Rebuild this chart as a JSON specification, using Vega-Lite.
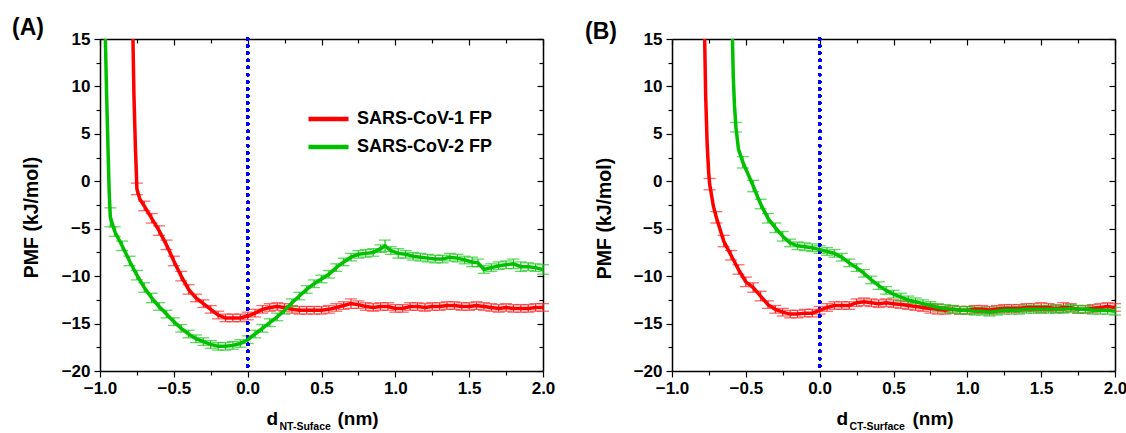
{
  "$schema": "https://vega.github.io/schema/vega-lite/v6.json",
  "background": "white",
  "padding": {"left": 12, "top": 17, "right": 0, "bottom": 0},
  "spacing": 30,
  "config": {"view": {"stroke": null}, "font": "Liberation Sans"},
  "datasets": {
    "pmf": [
      {"p":"A","s":"SARS-CoV-1 FP","x":-0.778,"y":16,"e":null},
      {"p":"A","s":"SARS-CoV-1 FP","x":-0.77,"y":9,"e":null},
      {"p":"A","s":"SARS-CoV-1 FP","x":-0.76,"y":3.5,"e":null},
      {"p":"A","s":"SARS-CoV-1 FP","x":-0.75,"y":-0.8,"e":0.6},
      {"p":"A","s":"SARS-CoV-1 FP","x":-0.73,"y":-1.9,"e":null},
      {"p":"A","s":"SARS-CoV-1 FP","x":-0.70,"y":-2.6,"e":0.5},
      {"p":"A","s":"SARS-CoV-1 FP","x":-0.65,"y":-3.9,"e":0.5},
      {"p":"A","s":"SARS-CoV-1 FP","x":-0.60,"y":-5.2,"e":0.5},
      {"p":"A","s":"SARS-CoV-1 FP","x":-0.55,"y":-6.7,"e":0.5},
      {"p":"A","s":"SARS-CoV-1 FP","x":-0.50,"y":-8.4,"e":0.5},
      {"p":"A","s":"SARS-CoV-1 FP","x":-0.45,"y":-10.0,"e":0.5},
      {"p":"A","s":"SARS-CoV-1 FP","x":-0.40,"y":-11.4,"e":0.5},
      {"p":"A","s":"SARS-CoV-1 FP","x":-0.35,"y":-12.3,"e":0.4},
      {"p":"A","s":"SARS-CoV-1 FP","x":-0.30,"y":-12.9,"e":0.4},
      {"p":"A","s":"SARS-CoV-1 FP","x":-0.25,"y":-13.5,"e":0.4},
      {"p":"A","s":"SARS-CoV-1 FP","x":-0.20,"y":-14.1,"e":0.4},
      {"p":"A","s":"SARS-CoV-1 FP","x":-0.15,"y":-14.4,"e":0.4},
      {"p":"A","s":"SARS-CoV-1 FP","x":-0.10,"y":-14.4,"e":0.4},
      {"p":"A","s":"SARS-CoV-1 FP","x":-0.05,"y":-14.4,"e":0.4},
      {"p":"A","s":"SARS-CoV-1 FP","x":0.00,"y":-14.2,"e":0.4},
      {"p":"A","s":"SARS-CoV-1 FP","x":0.05,"y":-13.9,"e":0.4},
      {"p":"A","s":"SARS-CoV-1 FP","x":0.10,"y":-13.5,"e":0.4},
      {"p":"A","s":"SARS-CoV-1 FP","x":0.15,"y":-13.3,"e":0.4},
      {"p":"A","s":"SARS-CoV-1 FP","x":0.20,"y":-13.2,"e":0.4},
      {"p":"A","s":"SARS-CoV-1 FP","x":0.25,"y":-13.3,"e":0.4},
      {"p":"A","s":"SARS-CoV-1 FP","x":0.30,"y":-13.5,"e":0.4},
      {"p":"A","s":"SARS-CoV-1 FP","x":0.35,"y":-13.6,"e":0.4},
      {"p":"A","s":"SARS-CoV-1 FP","x":0.40,"y":-13.6,"e":0.4},
      {"p":"A","s":"SARS-CoV-1 FP","x":0.45,"y":-13.6,"e":0.4},
      {"p":"A","s":"SARS-CoV-1 FP","x":0.50,"y":-13.6,"e":0.4},
      {"p":"A","s":"SARS-CoV-1 FP","x":0.55,"y":-13.5,"e":0.4},
      {"p":"A","s":"SARS-CoV-1 FP","x":0.60,"y":-13.3,"e":0.4},
      {"p":"A","s":"SARS-CoV-1 FP","x":0.65,"y":-13.1,"e":0.4},
      {"p":"A","s":"SARS-CoV-1 FP","x":0.70,"y":-12.9,"e":0.5},
      {"p":"A","s":"SARS-CoV-1 FP","x":0.75,"y":-13.0,"e":0.4},
      {"p":"A","s":"SARS-CoV-1 FP","x":0.80,"y":-13.2,"e":0.4},
      {"p":"A","s":"SARS-CoV-1 FP","x":0.85,"y":-13.3,"e":0.4},
      {"p":"A","s":"SARS-CoV-1 FP","x":0.90,"y":-13.2,"e":0.4},
      {"p":"A","s":"SARS-CoV-1 FP","x":0.95,"y":-13.2,"e":0.4},
      {"p":"A","s":"SARS-CoV-1 FP","x":1.00,"y":-13.4,"e":0.4},
      {"p":"A","s":"SARS-CoV-1 FP","x":1.05,"y":-13.4,"e":0.4},
      {"p":"A","s":"SARS-CoV-1 FP","x":1.10,"y":-13.2,"e":0.4},
      {"p":"A","s":"SARS-CoV-1 FP","x":1.15,"y":-13.2,"e":0.4},
      {"p":"A","s":"SARS-CoV-1 FP","x":1.20,"y":-13.3,"e":0.4},
      {"p":"A","s":"SARS-CoV-1 FP","x":1.25,"y":-13.2,"e":0.4},
      {"p":"A","s":"SARS-CoV-1 FP","x":1.30,"y":-13.2,"e":0.4},
      {"p":"A","s":"SARS-CoV-1 FP","x":1.35,"y":-13.1,"e":0.4},
      {"p":"A","s":"SARS-CoV-1 FP","x":1.40,"y":-13.1,"e":0.4},
      {"p":"A","s":"SARS-CoV-1 FP","x":1.45,"y":-13.2,"e":0.4},
      {"p":"A","s":"SARS-CoV-1 FP","x":1.50,"y":-13.2,"e":0.4},
      {"p":"A","s":"SARS-CoV-1 FP","x":1.55,"y":-13.1,"e":0.4},
      {"p":"A","s":"SARS-CoV-1 FP","x":1.60,"y":-13.2,"e":0.4},
      {"p":"A","s":"SARS-CoV-1 FP","x":1.65,"y":-13.3,"e":0.4},
      {"p":"A","s":"SARS-CoV-1 FP","x":1.70,"y":-13.4,"e":0.4},
      {"p":"A","s":"SARS-CoV-1 FP","x":1.75,"y":-13.3,"e":0.4},
      {"p":"A","s":"SARS-CoV-1 FP","x":1.80,"y":-13.4,"e":0.4},
      {"p":"A","s":"SARS-CoV-1 FP","x":1.85,"y":-13.4,"e":0.4},
      {"p":"A","s":"SARS-CoV-1 FP","x":1.90,"y":-13.4,"e":0.4},
      {"p":"A","s":"SARS-CoV-1 FP","x":1.95,"y":-13.3,"e":0.4},
      {"p":"A","s":"SARS-CoV-1 FP","x":2.00,"y":-13.3,"e":0.4},

      {"p":"A","s":"SARS-CoV-2 FP","x":-0.965,"y":16,"e":null},
      {"p":"A","s":"SARS-CoV-2 FP","x":-0.955,"y":9,"e":null},
      {"p":"A","s":"SARS-CoV-2 FP","x":-0.945,"y":3,"e":null},
      {"p":"A","s":"SARS-CoV-2 FP","x":-0.938,"y":-1.0,"e":null},
      {"p":"A","s":"SARS-CoV-2 FP","x":-0.93,"y":-3.8,"e":1.0},
      {"p":"A","s":"SARS-CoV-2 FP","x":-0.90,"y":-5.3,"e":0.5},
      {"p":"A","s":"SARS-CoV-2 FP","x":-0.85,"y":-6.8,"e":0.5},
      {"p":"A","s":"SARS-CoV-2 FP","x":-0.80,"y":-8.4,"e":0.5},
      {"p":"A","s":"SARS-CoV-2 FP","x":-0.75,"y":-9.9,"e":0.5},
      {"p":"A","s":"SARS-CoV-2 FP","x":-0.70,"y":-11.2,"e":0.5},
      {"p":"A","s":"SARS-CoV-2 FP","x":-0.65,"y":-12.3,"e":0.5},
      {"p":"A","s":"SARS-CoV-2 FP","x":-0.60,"y":-13.2,"e":0.4},
      {"p":"A","s":"SARS-CoV-2 FP","x":-0.55,"y":-14.0,"e":0.4},
      {"p":"A","s":"SARS-CoV-2 FP","x":-0.50,"y":-14.8,"e":0.4},
      {"p":"A","s":"SARS-CoV-2 FP","x":-0.45,"y":-15.5,"e":0.4},
      {"p":"A","s":"SARS-CoV-2 FP","x":-0.40,"y":-16.1,"e":0.4},
      {"p":"A","s":"SARS-CoV-2 FP","x":-0.35,"y":-16.6,"e":0.4},
      {"p":"A","s":"SARS-CoV-2 FP","x":-0.30,"y":-16.9,"e":0.4},
      {"p":"A","s":"SARS-CoV-2 FP","x":-0.25,"y":-17.2,"e":0.4},
      {"p":"A","s":"SARS-CoV-2 FP","x":-0.20,"y":-17.4,"e":0.4},
      {"p":"A","s":"SARS-CoV-2 FP","x":-0.15,"y":-17.4,"e":0.4},
      {"p":"A","s":"SARS-CoV-2 FP","x":-0.10,"y":-17.3,"e":0.4},
      {"p":"A","s":"SARS-CoV-2 FP","x":-0.05,"y":-17.1,"e":0.4},
      {"p":"A","s":"SARS-CoV-2 FP","x":0.00,"y":-16.7,"e":0.4},
      {"p":"A","s":"SARS-CoV-2 FP","x":0.05,"y":-16.1,"e":0.4},
      {"p":"A","s":"SARS-CoV-2 FP","x":0.10,"y":-15.5,"e":0.4},
      {"p":"A","s":"SARS-CoV-2 FP","x":0.15,"y":-14.9,"e":0.4},
      {"p":"A","s":"SARS-CoV-2 FP","x":0.20,"y":-14.3,"e":0.4},
      {"p":"A","s":"SARS-CoV-2 FP","x":0.25,"y":-13.6,"e":0.4},
      {"p":"A","s":"SARS-CoV-2 FP","x":0.30,"y":-12.8,"e":0.4},
      {"p":"A","s":"SARS-CoV-2 FP","x":0.35,"y":-12.1,"e":0.4},
      {"p":"A","s":"SARS-CoV-2 FP","x":0.40,"y":-11.4,"e":0.4},
      {"p":"A","s":"SARS-CoV-2 FP","x":0.45,"y":-10.8,"e":0.4},
      {"p":"A","s":"SARS-CoV-2 FP","x":0.50,"y":-10.3,"e":0.4},
      {"p":"A","s":"SARS-CoV-2 FP","x":0.55,"y":-9.8,"e":0.4},
      {"p":"A","s":"SARS-CoV-2 FP","x":0.60,"y":-9.1,"e":0.4},
      {"p":"A","s":"SARS-CoV-2 FP","x":0.65,"y":-8.5,"e":0.4},
      {"p":"A","s":"SARS-CoV-2 FP","x":0.70,"y":-8.0,"e":0.4},
      {"p":"A","s":"SARS-CoV-2 FP","x":0.75,"y":-7.7,"e":0.4},
      {"p":"A","s":"SARS-CoV-2 FP","x":0.80,"y":-7.6,"e":0.4},
      {"p":"A","s":"SARS-CoV-2 FP","x":0.85,"y":-7.5,"e":0.4},
      {"p":"A","s":"SARS-CoV-2 FP","x":0.90,"y":-7.1,"e":0.4},
      {"p":"A","s":"SARS-CoV-2 FP","x":0.93,"y":-6.8,"e":0.6},
      {"p":"A","s":"SARS-CoV-2 FP","x":0.97,"y":-7.3,"e":0.4},
      {"p":"A","s":"SARS-CoV-2 FP","x":1.02,"y":-7.6,"e":0.5},
      {"p":"A","s":"SARS-CoV-2 FP","x":1.07,"y":-7.7,"e":0.4},
      {"p":"A","s":"SARS-CoV-2 FP","x":1.12,"y":-7.9,"e":0.4},
      {"p":"A","s":"SARS-CoV-2 FP","x":1.17,"y":-8.0,"e":0.4},
      {"p":"A","s":"SARS-CoV-2 FP","x":1.22,"y":-8.1,"e":0.4},
      {"p":"A","s":"SARS-CoV-2 FP","x":1.27,"y":-8.2,"e":0.4},
      {"p":"A","s":"SARS-CoV-2 FP","x":1.32,"y":-8.2,"e":0.4},
      {"p":"A","s":"SARS-CoV-2 FP","x":1.37,"y":-8.0,"e":0.4},
      {"p":"A","s":"SARS-CoV-2 FP","x":1.42,"y":-8.1,"e":0.4},
      {"p":"A","s":"SARS-CoV-2 FP","x":1.47,"y":-8.3,"e":0.4},
      {"p":"A","s":"SARS-CoV-2 FP","x":1.52,"y":-8.5,"e":0.5},
      {"p":"A","s":"SARS-CoV-2 FP","x":1.56,"y":-8.6,"e":0.4},
      {"p":"A","s":"SARS-CoV-2 FP","x":1.60,"y":-9.3,"e":0.4},
      {"p":"A","s":"SARS-CoV-2 FP","x":1.65,"y":-9.1,"e":0.4},
      {"p":"A","s":"SARS-CoV-2 FP","x":1.70,"y":-8.9,"e":0.4},
      {"p":"A","s":"SARS-CoV-2 FP","x":1.75,"y":-8.8,"e":0.4},
      {"p":"A","s":"SARS-CoV-2 FP","x":1.80,"y":-8.7,"e":0.5},
      {"p":"A","s":"SARS-CoV-2 FP","x":1.85,"y":-9.0,"e":0.5},
      {"p":"A","s":"SARS-CoV-2 FP","x":1.90,"y":-9.0,"e":0.4},
      {"p":"A","s":"SARS-CoV-2 FP","x":1.95,"y":-9.1,"e":0.4},
      {"p":"A","s":"SARS-CoV-2 FP","x":2.00,"y":-9.3,"e":0.5},

      {"p":"B","s":"SARS-CoV-1 FP","x":-0.78,"y":16,"e":null},
      {"p":"B","s":"SARS-CoV-1 FP","x":-0.772,"y":9,"e":null},
      {"p":"B","s":"SARS-CoV-1 FP","x":-0.762,"y":4,"e":null},
      {"p":"B","s":"SARS-CoV-1 FP","x":-0.752,"y":1,"e":null},
      {"p":"B","s":"SARS-CoV-1 FP","x":-0.745,"y":-0.3,"e":0.6},
      {"p":"B","s":"SARS-CoV-1 FP","x":-0.72,"y":-2.6,"e":null},
      {"p":"B","s":"SARS-CoV-1 FP","x":-0.70,"y":-3.8,"e":0.6},
      {"p":"B","s":"SARS-CoV-1 FP","x":-0.65,"y":-6.3,"e":0.6},
      {"p":"B","s":"SARS-CoV-1 FP","x":-0.60,"y":-7.8,"e":0.5},
      {"p":"B","s":"SARS-CoV-1 FP","x":-0.55,"y":-9.3,"e":0.5},
      {"p":"B","s":"SARS-CoV-1 FP","x":-0.50,"y":-10.6,"e":0.5},
      {"p":"B","s":"SARS-CoV-1 FP","x":-0.45,"y":-11.2,"e":0.5},
      {"p":"B","s":"SARS-CoV-1 FP","x":-0.40,"y":-12.1,"e":0.5},
      {"p":"B","s":"SARS-CoV-1 FP","x":-0.35,"y":-13.0,"e":0.4},
      {"p":"B","s":"SARS-CoV-1 FP","x":-0.30,"y":-13.5,"e":0.4},
      {"p":"B","s":"SARS-CoV-1 FP","x":-0.25,"y":-13.8,"e":0.4},
      {"p":"B","s":"SARS-CoV-1 FP","x":-0.20,"y":-14.0,"e":0.4},
      {"p":"B","s":"SARS-CoV-1 FP","x":-0.15,"y":-14.0,"e":0.4},
      {"p":"B","s":"SARS-CoV-1 FP","x":-0.10,"y":-13.9,"e":0.4},
      {"p":"B","s":"SARS-CoV-1 FP","x":-0.05,"y":-13.9,"e":0.4},
      {"p":"B","s":"SARS-CoV-1 FP","x":0.00,"y":-13.6,"e":0.4},
      {"p":"B","s":"SARS-CoV-1 FP","x":0.05,"y":-13.3,"e":0.4},
      {"p":"B","s":"SARS-CoV-1 FP","x":0.10,"y":-13.1,"e":0.4},
      {"p":"B","s":"SARS-CoV-1 FP","x":0.15,"y":-13.1,"e":0.4},
      {"p":"B","s":"SARS-CoV-1 FP","x":0.20,"y":-13.1,"e":0.4},
      {"p":"B","s":"SARS-CoV-1 FP","x":0.25,"y":-12.8,"e":0.4},
      {"p":"B","s":"SARS-CoV-1 FP","x":0.30,"y":-12.7,"e":0.4},
      {"p":"B","s":"SARS-CoV-1 FP","x":0.35,"y":-12.8,"e":0.4},
      {"p":"B","s":"SARS-CoV-1 FP","x":0.40,"y":-12.9,"e":0.4},
      {"p":"B","s":"SARS-CoV-1 FP","x":0.45,"y":-12.8,"e":0.4},
      {"p":"B","s":"SARS-CoV-1 FP","x":0.50,"y":-12.9,"e":0.4},
      {"p":"B","s":"SARS-CoV-1 FP","x":0.55,"y":-13.0,"e":0.4},
      {"p":"B","s":"SARS-CoV-1 FP","x":0.60,"y":-13.1,"e":0.4},
      {"p":"B","s":"SARS-CoV-1 FP","x":0.65,"y":-13.2,"e":0.4},
      {"p":"B","s":"SARS-CoV-1 FP","x":0.70,"y":-13.3,"e":0.4},
      {"p":"B","s":"SARS-CoV-1 FP","x":0.75,"y":-13.4,"e":0.5},
      {"p":"B","s":"SARS-CoV-1 FP","x":0.80,"y":-13.5,"e":0.5},
      {"p":"B","s":"SARS-CoV-1 FP","x":0.85,"y":-13.6,"e":0.4},
      {"p":"B","s":"SARS-CoV-1 FP","x":0.90,"y":-13.5,"e":0.4},
      {"p":"B","s":"SARS-CoV-1 FP","x":0.95,"y":-13.6,"e":0.4},
      {"p":"B","s":"SARS-CoV-1 FP","x":1.00,"y":-13.6,"e":0.4},
      {"p":"B","s":"SARS-CoV-1 FP","x":1.05,"y":-13.5,"e":0.4},
      {"p":"B","s":"SARS-CoV-1 FP","x":1.10,"y":-13.5,"e":0.4},
      {"p":"B","s":"SARS-CoV-1 FP","x":1.15,"y":-13.6,"e":0.4},
      {"p":"B","s":"SARS-CoV-1 FP","x":1.20,"y":-13.5,"e":0.4},
      {"p":"B","s":"SARS-CoV-1 FP","x":1.25,"y":-13.4,"e":0.4},
      {"p":"B","s":"SARS-CoV-1 FP","x":1.30,"y":-13.4,"e":0.4},
      {"p":"B","s":"SARS-CoV-1 FP","x":1.35,"y":-13.4,"e":0.4},
      {"p":"B","s":"SARS-CoV-1 FP","x":1.40,"y":-13.3,"e":0.4},
      {"p":"B","s":"SARS-CoV-1 FP","x":1.45,"y":-13.3,"e":0.4},
      {"p":"B","s":"SARS-CoV-1 FP","x":1.50,"y":-13.3,"e":0.5},
      {"p":"B","s":"SARS-CoV-1 FP","x":1.55,"y":-13.3,"e":0.4},
      {"p":"B","s":"SARS-CoV-1 FP","x":1.60,"y":-13.4,"e":0.4},
      {"p":"B","s":"SARS-CoV-1 FP","x":1.65,"y":-13.3,"e":0.5},
      {"p":"B","s":"SARS-CoV-1 FP","x":1.70,"y":-13.3,"e":0.4},
      {"p":"B","s":"SARS-CoV-1 FP","x":1.75,"y":-13.5,"e":0.4},
      {"p":"B","s":"SARS-CoV-1 FP","x":1.80,"y":-13.5,"e":0.4},
      {"p":"B","s":"SARS-CoV-1 FP","x":1.85,"y":-13.4,"e":0.4},
      {"p":"B","s":"SARS-CoV-1 FP","x":1.90,"y":-13.3,"e":0.4},
      {"p":"B","s":"SARS-CoV-1 FP","x":1.95,"y":-13.2,"e":0.4},
      {"p":"B","s":"SARS-CoV-1 FP","x":2.00,"y":-13.3,"e":0.4},

      {"p":"B","s":"SARS-CoV-2 FP","x":-0.592,"y":16,"e":null},
      {"p":"B","s":"SARS-CoV-2 FP","x":-0.585,"y":11,"e":null},
      {"p":"B","s":"SARS-CoV-2 FP","x":-0.577,"y":8,"e":null},
      {"p":"B","s":"SARS-CoV-2 FP","x":-0.567,"y":5.7,"e":0.5},
      {"p":"B","s":"SARS-CoV-2 FP","x":-0.55,"y":3.4,"e":null},
      {"p":"B","s":"SARS-CoV-2 FP","x":-0.52,"y":2.0,"e":0.6},
      {"p":"B","s":"SARS-CoV-2 FP","x":-0.50,"y":1.3,"e":null},
      {"p":"B","s":"SARS-CoV-2 FP","x":-0.45,"y":-0.5,"e":0.6},
      {"p":"B","s":"SARS-CoV-2 FP","x":-0.40,"y":-2.4,"e":0.5},
      {"p":"B","s":"SARS-CoV-2 FP","x":-0.35,"y":-3.9,"e":0.5},
      {"p":"B","s":"SARS-CoV-2 FP","x":-0.30,"y":-4.9,"e":0.5},
      {"p":"B","s":"SARS-CoV-2 FP","x":-0.25,"y":-5.8,"e":0.5},
      {"p":"B","s":"SARS-CoV-2 FP","x":-0.20,"y":-6.5,"e":0.4},
      {"p":"B","s":"SARS-CoV-2 FP","x":-0.15,"y":-6.8,"e":0.4},
      {"p":"B","s":"SARS-CoV-2 FP","x":-0.10,"y":-6.9,"e":0.4},
      {"p":"B","s":"SARS-CoV-2 FP","x":-0.05,"y":-7.0,"e":0.4},
      {"p":"B","s":"SARS-CoV-2 FP","x":0.00,"y":-7.2,"e":0.4},
      {"p":"B","s":"SARS-CoV-2 FP","x":0.05,"y":-7.4,"e":0.4},
      {"p":"B","s":"SARS-CoV-2 FP","x":0.10,"y":-7.6,"e":0.4},
      {"p":"B","s":"SARS-CoV-2 FP","x":0.15,"y":-8.0,"e":0.4},
      {"p":"B","s":"SARS-CoV-2 FP","x":0.20,"y":-8.6,"e":0.4},
      {"p":"B","s":"SARS-CoV-2 FP","x":0.25,"y":-9.1,"e":0.4},
      {"p":"B","s":"SARS-CoV-2 FP","x":0.30,"y":-9.7,"e":0.4},
      {"p":"B","s":"SARS-CoV-2 FP","x":0.35,"y":-10.4,"e":0.4},
      {"p":"B","s":"SARS-CoV-2 FP","x":0.40,"y":-11.0,"e":0.4},
      {"p":"B","s":"SARS-CoV-2 FP","x":0.45,"y":-11.5,"e":0.4},
      {"p":"B","s":"SARS-CoV-2 FP","x":0.50,"y":-11.9,"e":0.4},
      {"p":"B","s":"SARS-CoV-2 FP","x":0.55,"y":-12.2,"e":0.4},
      {"p":"B","s":"SARS-CoV-2 FP","x":0.60,"y":-12.5,"e":0.4},
      {"p":"B","s":"SARS-CoV-2 FP","x":0.65,"y":-12.7,"e":0.4},
      {"p":"B","s":"SARS-CoV-2 FP","x":0.70,"y":-12.9,"e":0.4},
      {"p":"B","s":"SARS-CoV-2 FP","x":0.75,"y":-13.1,"e":0.4},
      {"p":"B","s":"SARS-CoV-2 FP","x":0.80,"y":-13.3,"e":0.4},
      {"p":"B","s":"SARS-CoV-2 FP","x":0.85,"y":-13.4,"e":0.4},
      {"p":"B","s":"SARS-CoV-2 FP","x":0.90,"y":-13.5,"e":0.4},
      {"p":"B","s":"SARS-CoV-2 FP","x":0.95,"y":-13.6,"e":0.4},
      {"p":"B","s":"SARS-CoV-2 FP","x":1.00,"y":-13.6,"e":0.4},
      {"p":"B","s":"SARS-CoV-2 FP","x":1.05,"y":-13.7,"e":0.4},
      {"p":"B","s":"SARS-CoV-2 FP","x":1.10,"y":-13.7,"e":0.4},
      {"p":"B","s":"SARS-CoV-2 FP","x":1.15,"y":-13.8,"e":0.4},
      {"p":"B","s":"SARS-CoV-2 FP","x":1.20,"y":-13.7,"e":0.4},
      {"p":"B","s":"SARS-CoV-2 FP","x":1.25,"y":-13.6,"e":0.4},
      {"p":"B","s":"SARS-CoV-2 FP","x":1.30,"y":-13.6,"e":0.4},
      {"p":"B","s":"SARS-CoV-2 FP","x":1.35,"y":-13.6,"e":0.4},
      {"p":"B","s":"SARS-CoV-2 FP","x":1.40,"y":-13.5,"e":0.4},
      {"p":"B","s":"SARS-CoV-2 FP","x":1.45,"y":-13.5,"e":0.4},
      {"p":"B","s":"SARS-CoV-2 FP","x":1.50,"y":-13.5,"e":0.4},
      {"p":"B","s":"SARS-CoV-2 FP","x":1.55,"y":-13.5,"e":0.4},
      {"p":"B","s":"SARS-CoV-2 FP","x":1.60,"y":-13.5,"e":0.4},
      {"p":"B","s":"SARS-CoV-2 FP","x":1.65,"y":-13.5,"e":0.4},
      {"p":"B","s":"SARS-CoV-2 FP","x":1.70,"y":-13.4,"e":0.4},
      {"p":"B","s":"SARS-CoV-2 FP","x":1.75,"y":-13.5,"e":0.4},
      {"p":"B","s":"SARS-CoV-2 FP","x":1.80,"y":-13.5,"e":0.4},
      {"p":"B","s":"SARS-CoV-2 FP","x":1.85,"y":-13.6,"e":0.4},
      {"p":"B","s":"SARS-CoV-2 FP","x":1.90,"y":-13.6,"e":0.4},
      {"p":"B","s":"SARS-CoV-2 FP","x":1.95,"y":-13.6,"e":0.4},
      {"p":"B","s":"SARS-CoV-2 FP","x":2.00,"y":-13.7,"e":0.4}
    ]
  },
  "hconcat": [
    {
      "width": 443,
      "height": 332,
      "title": {"text": "(A)", "anchor": "start", "frame": "group", "dx": -88, "offset": -28, "fontSize": 23, "fontWeight": "bold", "font": "Liberation Sans", "color": "black", "baseline": "alphabetic"},
      "data": {"name": "pmf"},
      "transform": [{"filter": {"field": "p", "equal": "A"}}],
      "layer": [
        {
          "transform": [{"filter": {"field": "s", "equal": "SARS-CoV-1 FP"}}, {"filter": {"field": "e", "valid": true}}],
          "mark": {"type": "errorbar", "ticks": {"size": 12}, "thickness": 1.3, "color": "#ff2a2a"},
          "encoding": {
            "x": {"field": "x", "type": "quantitative", "scale": {"domain": [-1, 2]},
              "axis": {"orient": "top", "values": [-1,-0.75,-0.5,-0.25,0,0.25,0.5,0.75,1,1.25,1.5,1.75,2], "labels": false, "grid": false,
                "tickSize": {"condition": {"test": "abs(datum.value % 0.5) < 0.001", "value": -6}, "value": -4},
                "tickColor": "black", "tickWidth": 1.2, "domainColor": "black", "domainWidth": 1.5,
                "title": "NT-Suface", "titleFontSize": 10.5, "titleFontWeight": "bold", "titleColor": "black", "titleX": 179, "titleY": 390, "titleAlign": "left", "titleBaseline": "alphabetic"}},
            "y": {"field": "y", "type": "quantitative", "scale": {"domain": [-20, 15]},
              "axis": {"orient": "right", "values": [-20,-17.5,-15,-12.5,-10,-7.5,-5,-2.5,0,2.5,5,7.5,10,12.5,15], "labels": false, "grid": false,
                "tickSize": {"condition": {"test": "abs(datum.value % 5) < 0.001", "value": -6}, "value": -4},
                "tickColor": "black", "tickWidth": 1.2, "domainColor": "black", "domainWidth": 1.5,
                "title": "(nm)", "titleAngle": 0, "titleFontSize": 19, "titleFontWeight": "bold", "titleColor": "black", "titleX": -206, "titleY": 385, "titleAlign": "left", "titleBaseline": "alphabetic"}},
            "yError": {"field": "e"}
          }
        },
        {
          "transform": [{"filter": {"field": "s", "equal": "SARS-CoV-2 FP"}}, {"filter": {"field": "e", "valid": true}}],
          "mark": {"type": "errorbar", "ticks": {"size": 12}, "thickness": 1.3, "color": "#1ec81e"},
          "encoding": {
            "x": {"field": "x", "type": "quantitative", "axis": null},
            "y": {"field": "y", "type": "quantitative", "axis": null},
            "yError": {"field": "e"}
          }
        },
        {
          "mark": {"type": "rule", "color": "#0000ff", "strokeWidth": 3.2, "strokeDash": [0.1, 7], "strokeCap": "round"},
          "encoding": {"x": {"datum": 0, "type": "quantitative", "axis": null}}
        },
        {
          "mark": {"type": "line", "strokeWidth": 3.5, "clip": true},
          "encoding": {
            "x": {"field": "x", "type": "quantitative",
              "axis": {"orient": "bottom", "values": [-1,-0.75,-0.5,-0.25,0,0.25,0.5,0.75,1,1.25,1.5,1.75,2], "format": ".1f", "labelFlush": false, "labelOverlap": false, "grid": false,
                "labelExpr": "abs(datum.value % 0.5) < 0.001 ? datum.label : ''",
                "labelFontSize": 17, "labelFontWeight": "bold", "labelColor": "black", "labelPadding": 3, "labelFont": "Liberation Sans",
                "tickSize": {"condition": {"test": "abs(datum.value % 0.5) < 0.001", "value": 6}, "value": 4},
                "tickColor": "black", "tickWidth": 1.2, "domainColor": "black", "domainWidth": 1.5,
                "title": "d", "titleFontSize": 19, "titleFontWeight": "bold", "titleColor": "black", "titleX": 166, "titleY": 53, "titleAlign": "left", "titleBaseline": "alphabetic"}},
            "y": {"field": "y", "type": "quantitative",
              "axis": {"orient": "left", "values": [-20,-17.5,-15,-12.5,-10,-7.5,-5,-2.5,0,2.5,5,7.5,10,12.5,15], "labelFlush": false, "labelOverlap": false, "grid": false,
                "labelExpr": "abs(datum.value % 5) < 0.001 ? datum.label : ''",
                "labelFontSize": 17, "labelFontWeight": "bold", "labelColor": "black", "labelPadding": 4, "labelFont": "Liberation Sans",
                "tickSize": {"condition": {"test": "abs(datum.value % 5) < 0.001", "value": 6}, "value": 4},
                "tickColor": "black", "tickWidth": 1.2, "domainColor": "black", "domainWidth": 1.5,
                "title": "PMF (kJ/mol)", "titleFontSize": 19.5, "titleFontWeight": "bold", "titleColor": "black", "titleAngle": 270, "titleX": -59, "titleY": 178, "titleAlign": "center", "titleBaseline": "bottom"}},
            "color": {"field": "s", "type": "nominal",
              "scale": {"domain": ["SARS-CoV-1 FP", "SARS-CoV-2 FP"], "range": ["#ff0000", "#00c000"]},
              "legend": {"orient": "none", "legendX": 206, "legendY": 67, "title": null, "symbolType": "stroke", "symbolSize": 1600, "symbolStrokeWidth": 4.5,
                "labelFontSize": 18, "labelFontWeight": "bold", "labelColor": "black", "labelFont": "Liberation Sans", "clipHeight": 26, "labelOffset": 6, "padding": 0}}
          }
        }
      ],
      "resolve": {"axis": {"x": "independent", "y": "independent"}}
    },
    {
      "width": 443,
      "height": 332,
      "title": {"text": "(B)", "anchor": "start", "frame": "group", "dx": -87, "dy": 4, "offset": -28, "fontSize": 23, "fontWeight": "bold", "font": "Liberation Sans", "color": "black", "baseline": "alphabetic"},
      "data": {"name": "pmf"},
      "transform": [{"filter": {"field": "p", "equal": "B"}}],
      "layer": [
        {
          "transform": [{"filter": {"field": "s", "equal": "SARS-CoV-1 FP"}}, {"filter": {"field": "e", "valid": true}}],
          "mark": {"type": "errorbar", "ticks": {"size": 12}, "thickness": 1.3, "color": "#ff2a2a"},
          "encoding": {
            "x": {"field": "x", "type": "quantitative", "scale": {"domain": [-1, 2]},
              "axis": {"orient": "top", "values": [-1,-0.75,-0.5,-0.25,0,0.25,0.5,0.75,1,1.25,1.5,1.75,2], "labels": false, "grid": false,
                "tickSize": {"condition": {"test": "abs(datum.value % 0.5) < 0.001", "value": -6}, "value": -4},
                "tickColor": "black", "tickWidth": 1.2, "domainColor": "black", "domainWidth": 1.5,
                "title": "CT-Surface", "titleFontSize": 10.5, "titleFontWeight": "bold", "titleColor": "black", "titleX": 177, "titleY": 390, "titleAlign": "left", "titleBaseline": "alphabetic"}},
            "y": {"field": "y", "type": "quantitative", "scale": {"domain": [-20, 15]},
              "axis": {"orient": "right", "values": [-20,-17.5,-15,-12.5,-10,-7.5,-5,-2.5,0,2.5,5,7.5,10,12.5,15], "labels": false, "grid": false,
                "tickSize": {"condition": {"test": "abs(datum.value % 5) < 0.001", "value": -6}, "value": -4},
                "tickColor": "black", "tickWidth": 1.2, "domainColor": "black", "domainWidth": 1.5,
                "title": "(nm)", "titleAngle": 0, "titleFontSize": 19, "titleFontWeight": "bold", "titleColor": "black", "titleX": -203, "titleY": 385, "titleAlign": "left", "titleBaseline": "alphabetic"}},
            "yError": {"field": "e"}
          }
        },
        {
          "transform": [{"filter": {"field": "s", "equal": "SARS-CoV-2 FP"}}, {"filter": {"field": "e", "valid": true}}],
          "mark": {"type": "errorbar", "ticks": {"size": 12}, "thickness": 1.3, "color": "#1ec81e"},
          "encoding": {
            "x": {"field": "x", "type": "quantitative", "axis": null},
            "y": {"field": "y", "type": "quantitative", "axis": null},
            "yError": {"field": "e"}
          }
        },
        {
          "mark": {"type": "rule", "color": "#0000ff", "strokeWidth": 3.2, "strokeDash": [0.1, 7], "strokeCap": "round"},
          "encoding": {"x": {"datum": 0, "type": "quantitative", "axis": null}}
        },
        {
          "mark": {"type": "line", "strokeWidth": 3.5, "clip": true},
          "encoding": {
            "x": {"field": "x", "type": "quantitative",
              "axis": {"orient": "bottom", "values": [-1,-0.75,-0.5,-0.25,0,0.25,0.5,0.75,1,1.25,1.5,1.75,2], "format": ".1f", "labelFlush": false, "labelOverlap": false, "grid": false,
                "labelExpr": "abs(datum.value % 0.5) < 0.001 ? datum.label : ''",
                "labelFontSize": 17, "labelFontWeight": "bold", "labelColor": "black", "labelPadding": 3, "labelFont": "Liberation Sans",
                "tickSize": {"condition": {"test": "abs(datum.value % 0.5) < 0.001", "value": 6}, "value": 4},
                "tickColor": "black", "tickWidth": 1.2, "domainColor": "black", "domainWidth": 1.5,
                "title": "d", "titleFontSize": 19, "titleFontWeight": "bold", "titleColor": "black", "titleX": 164, "titleY": 53, "titleAlign": "left", "titleBaseline": "alphabetic"}},
            "y": {"field": "y", "type": "quantitative",
              "axis": {"orient": "left", "values": [-20,-17.5,-15,-12.5,-10,-7.5,-5,-2.5,0,2.5,5,7.5,10,12.5,15], "labelFlush": false, "labelOverlap": false, "grid": false,
                "labelExpr": "abs(datum.value % 5) < 0.001 ? datum.label : ''",
                "labelFontSize": 17, "labelFontWeight": "bold", "labelColor": "black", "labelPadding": 4, "labelFont": "Liberation Sans",
                "tickSize": {"condition": {"test": "abs(datum.value % 5) < 0.001", "value": 6}, "value": 4},
                "tickColor": "black", "tickWidth": 1.2, "domainColor": "black", "domainWidth": 1.5,
                "title": "PMF (kJ/mol)", "titleFontSize": 19.5, "titleFontWeight": "bold", "titleColor": "black", "titleAngle": 270, "titleX": -58, "titleY": 179, "titleAlign": "center", "titleBaseline": "bottom"}},
            "color": {"field": "s", "type": "nominal",
              "scale": {"domain": ["SARS-CoV-1 FP", "SARS-CoV-2 FP"], "range": ["#ff0000", "#00c000"]},
              "legend": {"orient": "none", "legendX": 221, "legendY": 16, "title": null, "symbolType": "stroke", "symbolSize": 1600, "symbolStrokeWidth": 4.5,
                "labelFontSize": 18, "labelFontWeight": "bold", "labelColor": "black", "labelFont": "Liberation Sans", "clipHeight": 26, "labelOffset": 6, "padding": 0}}
          }
        }
      ],
      "resolve": {"axis": {"x": "independent", "y": "independent"}}
    }
  ]
}
